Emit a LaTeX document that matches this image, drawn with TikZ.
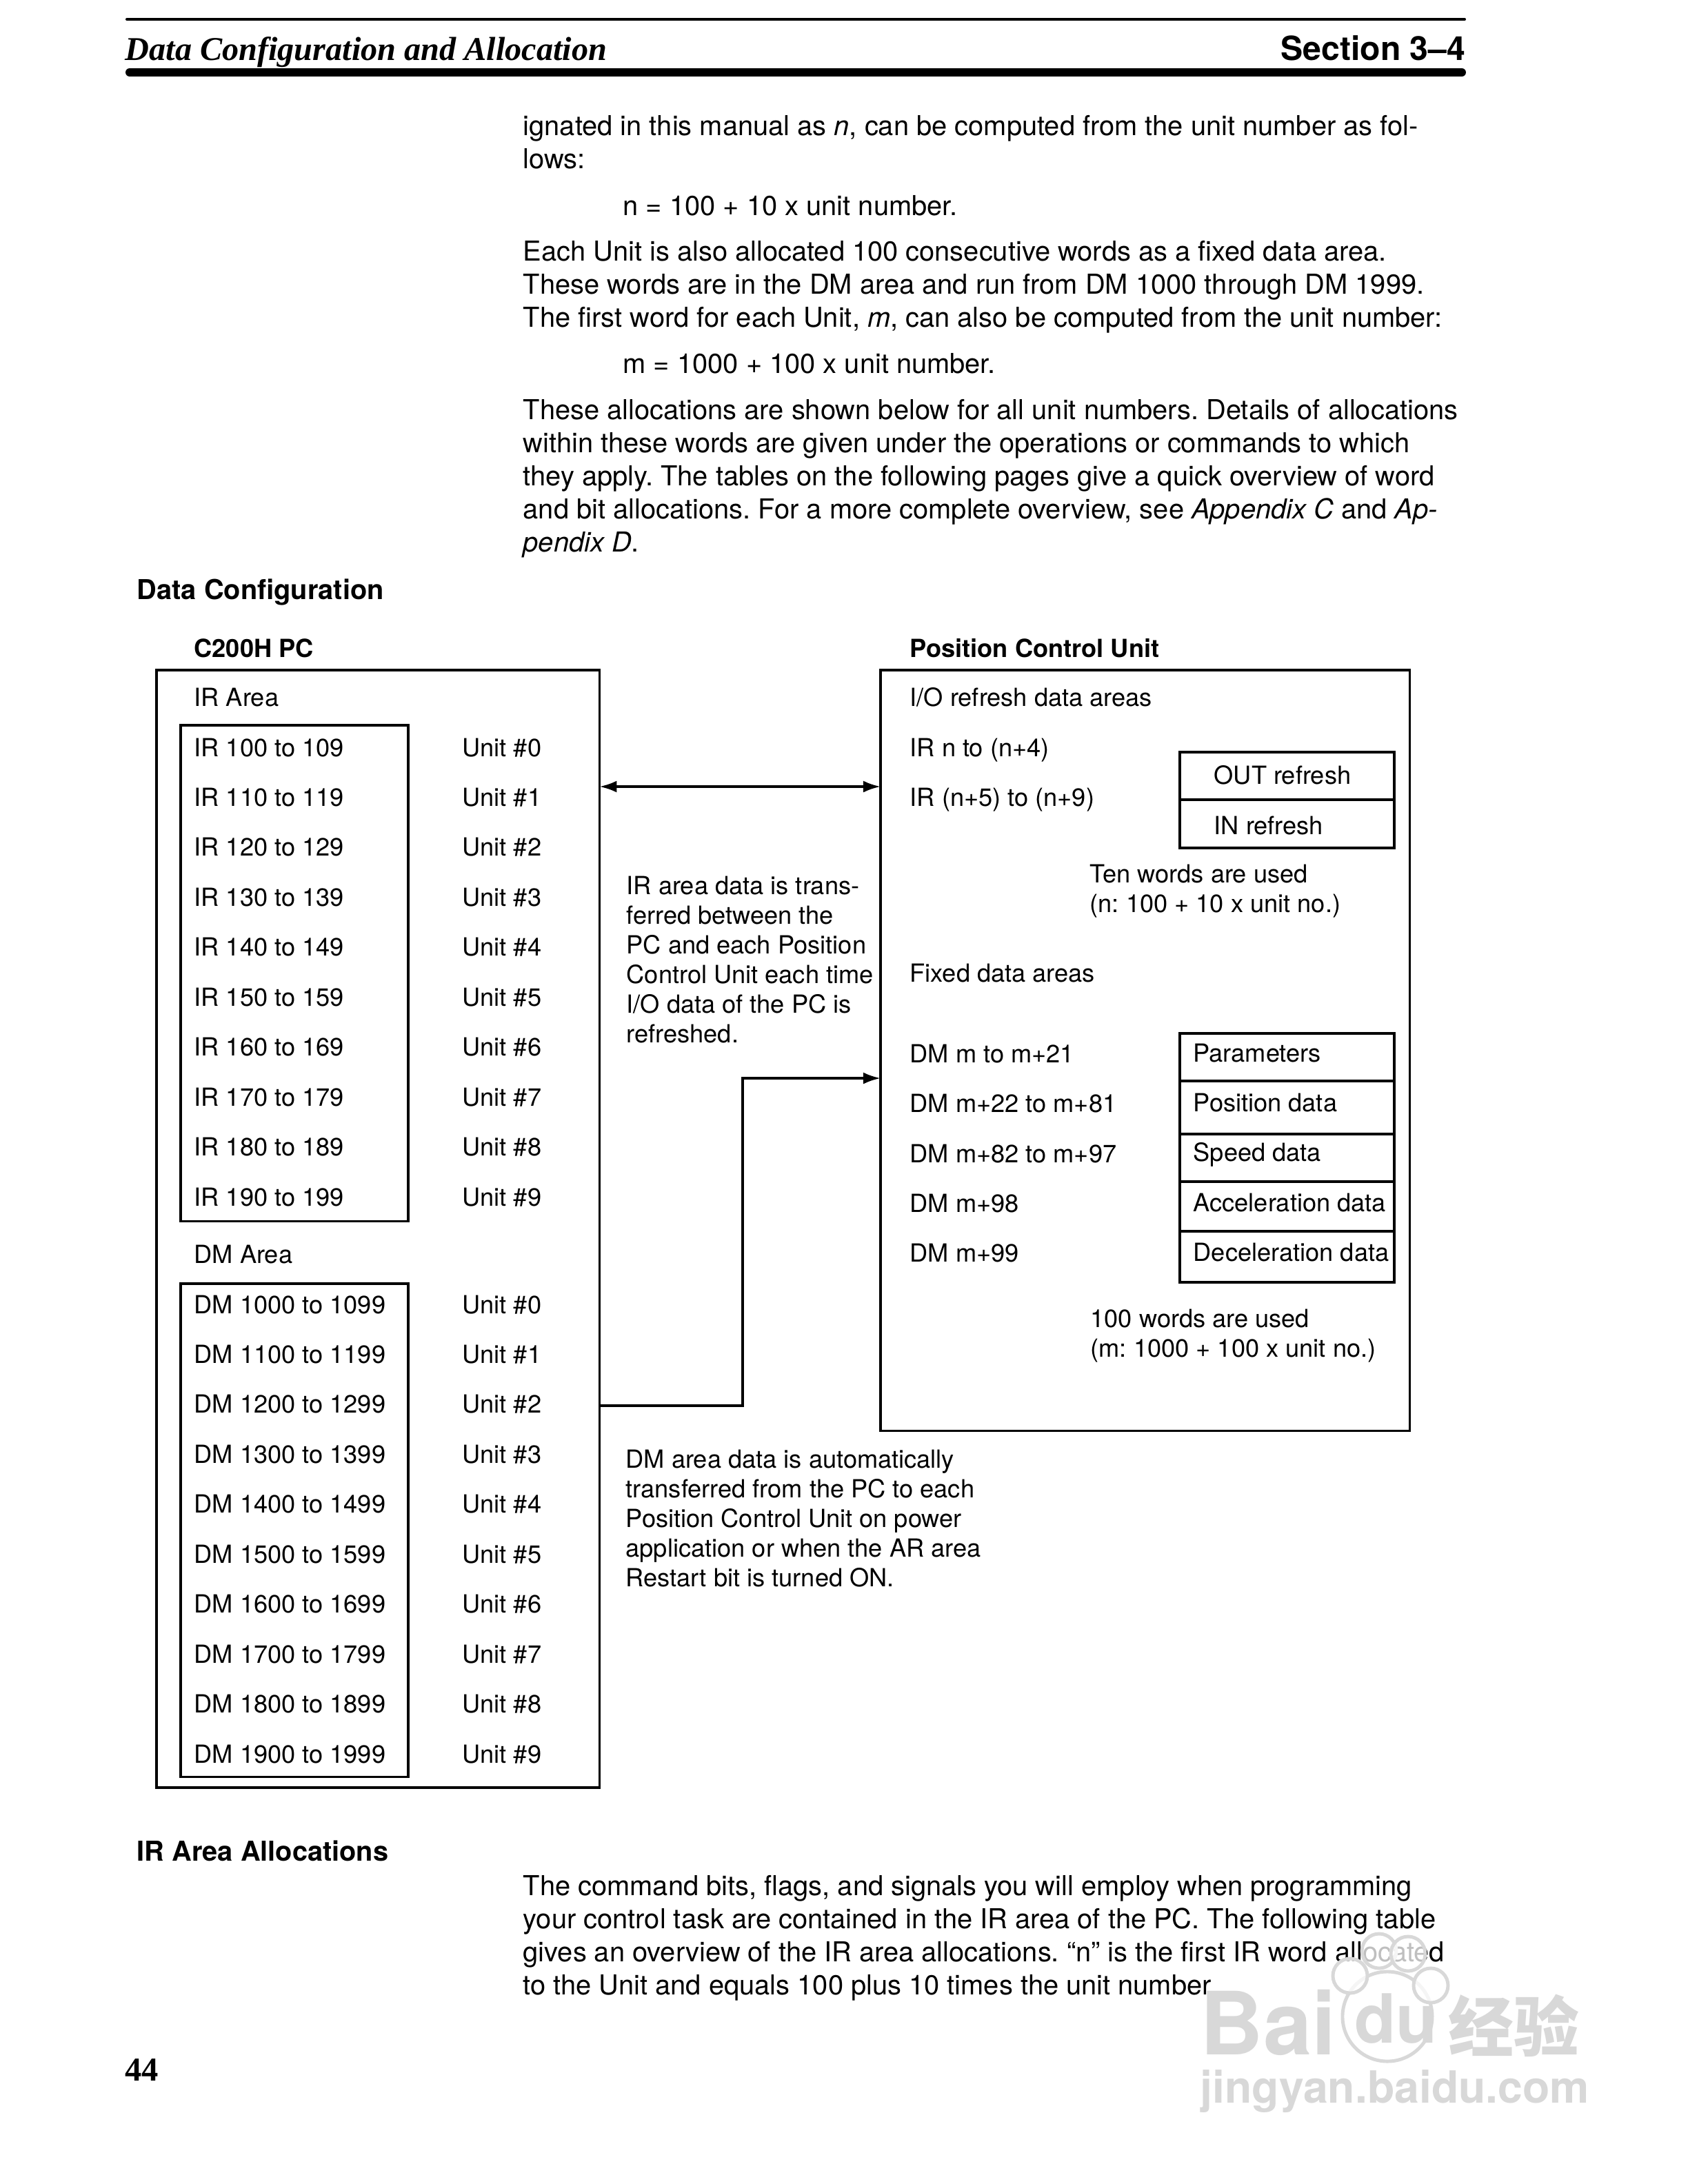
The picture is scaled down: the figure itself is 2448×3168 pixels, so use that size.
\documentclass[tikz,border=0pt]{standalone}
\usepackage{fontspec}
\setmainfont{TeX Gyre Heros}
\newfontfamily\headserif{Liberation Serif}
\newfontfamily\cjkmark{Noto Sans CJK SC}
\usetikzlibrary{arrows.meta,positioning}
\definecolor{markgray}{HTML}{D8D8D8}
\tikzset{
  bodytext/.style={anchor=base west, inner sep=0pt, align=left,
    font=\fontsize{11.33pt}{13.65pt}\selectfont\frenchspacing},
  figtext/.style={anchor=base west, inner sep=0pt, align=left,
    font=\fontsize{10.3pt}{12.2pt}\selectfont\frenchspacing},
  figbold/.style={figtext, font=\fontsize{10.3pt}{12.2pt}\selectfont\bfseries},
  sidehead/.style={anchor=base west, inner sep=0pt,
    font=\fontsize{11.3pt}{13.65pt}\selectfont\bfseries},
  areabox/.style={draw, line width=1pt, anchor=north west, inner sep=0pt, outer sep=0pt},
  cellbox/.style={areabox, minimum width=3.11cm},
  flow/.style={line width=1pt, -{Latex[length=2.5mm,width=1.7mm]}},
  markpaw/.style={draw=markgray, line width=1.4pt, fill=white, fill opacity=.75,
    circle, minimum size=.5cm, inner sep=0pt},
}
\begin{document}
\begin{tikzpicture}[x=0.01cm,y=-0.01cm]
  \useasboundingbox (0,0) rectangle (2448,3168);

  % page head
  \draw[line width=1.15pt, line cap=round] (184,28) -- (2124,28);
  \draw[line width=3.4pt, line cap=round] (188,105) -- (2120,105);
  \node (headleft) [anchor=base west, inner sep=0pt,
    font=\headserif\fontsize{13.72pt}{15pt}\selectfont\bfseries\itshape] at (181,87)
    {Data Configuration and Allocation};
  \node (headright) [anchor=base east, inner sep=0pt,
    font=\fontsize{13.7pt}{15pt}\selectfont\bfseries] at (2126,87) {Section 3--4};

  % running text
  \node (introa) [bodytext] at (758,244) {ignated in this manual as \textit{n}, can be computed from the unit number as fol-\\lows:};
  \node (formulan) [bodytext] at (903,312) {n = 100 + 10 x unit number.};
  \node (introb) [bodytext] at (758,474) {Each Unit is also allocated 100 consecutive words as a fixed data area.\\These words are in the DM area and run from DM 1000 through DM 1999.\\The first word for each Unit, \textit{m}, can also be computed from the unit number:};
  \node (formulam) [bodytext] at (903,541) {m = 1000 + 100 x unit number.};
  \node (introc) [bodytext] at (758,800) {These allocations are shown below for all unit numbers. Details of allocations\\within these words are given under the operations or commands to which\\they apply. The tables on the following pages give a quick overview of word\\and bit allocations. For a more complete overview, see \textit{Appendix C} and \textit{Ap-}\\\textit{pendix D}.};
  \node (confhead) [sidehead] at (198,869) {Data Configuration};

  % C200H PC side
  \node (pctitle) [figbold] at (281,953) {C200H PC};
  \node (pcbox) [areabox, minimum width=6.42cm, minimum height=16.2cm] at (227,972) {};
  \node (irtitle) [figtext] at (281,1024) {IR Area};
  \node (irbox) [areabox, minimum width=3.30cm, minimum height=7.19cm] at (262,1052) {};
  \node (dmtitle) [figtext] at (281,1832) {DM Area};
  \node (dmbox) [areabox, minimum width=3.30cm, minimum height=7.15cm] at (262,1862) {};
  \foreach \i in {0,...,9} {
    \pgfmathtruncatemacro{\irfrom}{100+10*\i}
    \pgfmathtruncatemacro{\irto}{109+10*\i}
    \pgfmathtruncatemacro{\dmfrom}{1000+100*\i}
    \pgfmathtruncatemacro{\dmto}{1099+100*\i}
    \node (irrow\i) [figtext] at (281,1097+72.45*\i) {IR \irfrom{} to \irto};
    \node (irunit\i) [figtext] at (670,1097+72.45*\i) {Unit \#\i};
    \node (dmrow\i) [figtext] at (281,1905+72.45*\i) {DM \dmfrom{} to \dmto};
    \node (dmunit\i) [figtext] at (670,1905+72.45*\i) {Unit \#\i};
  }

  % Position Control Unit side
  \node (pcutitle) [figbold] at (1319,953) {Position Control Unit};
  \node (pcubox) [areabox, minimum width=7.67cm, minimum height=11.03cm] at (1277,972) {};
  \node (iotitle) [figtext] at (1319,1024) {I/O refresh data areas};
  \node (iorowa) [figtext] at (1319,1097) {IR n to (n+4)};
  \node (iorowb) [figtext] at (1319,1169) {IR (n+5) to (n+9)};
  \node (outcell) [cellbox, minimum height=0.69cm] at (1711,1091) {};
  \node (incell) [cellbox, minimum height=0.70cm] at (1711,1160) {};
  \node (outtext) [figtext] at (1760,1137) {OUT refresh};
  \node (intext) [figtext] at (1760,1210) {IN refresh};
  \node (iowords) [figtext] at (1580,1323) {Ten words are used\\(n: 100 + 10 x unit no.)};
  \node (fixedtitle) [figtext] at (1319,1424) {Fixed data areas};
  \node (fixrowa) [figtext] at (1319,1541) {DM m to m+21};
  \node (fixrowb) [figtext] at (1319,1613) {DM m+22 to m+81};
  \node (fixrowc) [figtext] at (1319,1686) {DM m+82 to m+97};
  \node (fixrowd) [figtext] at (1319,1758) {DM m+98};
  \node (fixrowe) [figtext] at (1319,1830) {DM m+99};
  \node (paramcell) [cellbox, minimum height=0.69cm] at (1711,1499) {};
  \node (poscell) [cellbox, minimum height=0.77cm] at (1711,1568) {};
  \node (speedcell) [cellbox, minimum height=0.69cm] at (1711,1645) {};
  \node (acccell) [cellbox, minimum height=0.72cm] at (1711,1714) {};
  \node (deccell) [cellbox, minimum height=0.74cm] at (1711,1786) {};
  \node (paramtext) [figtext] at (1730,1540) {Parameters};
  \node (postext) [figtext] at (1730,1612) {Position data};
  \node (speedtext) [figtext] at (1730,1684) {Speed data};
  \node (acctext) [figtext] at (1730,1757) {Acceleration data};
  \node (dectext) [figtext] at (1730,1829) {Deceleration data};
  \node (fixwords) [figtext] at (1581,1968) {100 words are used\\(m: 1000 + 100 x unit no.)};

  % transfers between the two sides
  \coordinate (irlevel) at (0,1141);
  \coordinate (dmlevel) at (0,2039);
  \coordinate (pculevel) at (0,1564);
  \coordinate (dmbend) at (1077,2039);
  \coordinate (pcubend) at (1077,1564);
  \draw[flow, {Latex[length=2.5mm,width=1.7mm]}-{Latex[length=2.5mm,width=1.7mm]}]
    (pcbox.east |- irlevel) -- (pcubox.west |- irlevel);
  \draw[flow] (pcbox.east |- dmlevel) -- (dmbend) -- (pcubend) -- (pcubox.west |- pculevel);
  \node (irnote) [figtext] at (908,1512) {IR area data is trans-\\ferred between the\\PC and each Position\\Control Unit each time\\I/O data of the PC is\\refreshed.};
  \node (dmnote) [figtext] at (907,2301) {DM area data is automatically\\transferred from the PC to each\\Position Control Unit on power\\application or when the AR area\\Restart bit is turned ON.};

  % next section
  \node (allochead) [sidehead] at (198,2699) {IR Area Allocations};
  \node (introd) [bodytext] at (758,2893) {The command bits, flags, and signals you will employ when programming\\your control task are contained in the IR area of the PC. The following table\\gives an overview of the IR area allocations. “n” is the first IR word allocated\\to the Unit and equals 100 plus 10 times the unit number.};
  \node (pagenum) [anchor=base west, inner sep=0pt,
    font=\headserif\fontsize{13.8pt}{15pt}\selectfont\bfseries] at (181,3018) {44};

  % watermark
  \node (markpalm) [markpaw, minimum size=1.3cm] at (2012,2925) {};
  \node (marktoea) [markpaw] at (1958,2866) {};
  \node (marktoeb) [markpaw] at (2000,2830) {};
  \node (marktoec) [markpaw] at (2042,2834) {};
  \node (marktoed) [markpaw] at (2075,2880) {};
  \node (markbai) [anchor=base west, inner sep=0pt, text=markgray,
    font=\fontsize{36pt}{36pt}\selectfont\bfseries] at (1740,2980) {Bai};
  \node (markdu) [anchor=base west, inner sep=0pt, text=markgray,
    font=\fontsize{28pt}{28pt}\selectfont\bfseries] at (1964,2963) {du};
  \node (markjy) [anchor=base west, inner sep=0pt, text=markgray,
    font=\cjkmark\fontsize{27pt}{27pt}\selectfont\bfseries] at (2100,2975) {经验};
  \node (markurl) [anchor=base west, inner sep=0pt, text=markgray,
    font=\fontsize{18.3pt}{22pt}\selectfont\bfseries] at (1740,3050) {jingyan.baidu.com};
\end{tikzpicture}
\end{document}
